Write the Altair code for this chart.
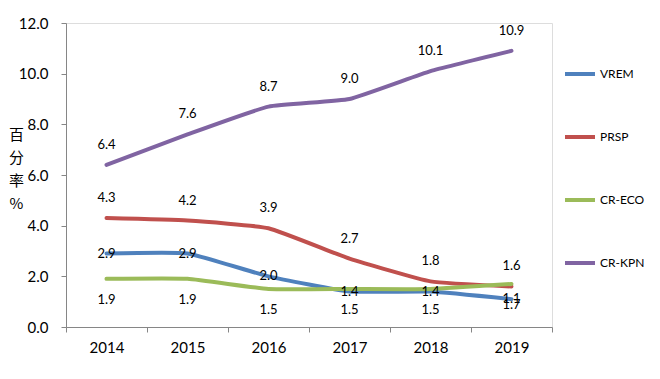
import altair as alt
import pandas as pd

years = ["2014", "2015", "2016", "2017", "2018", "2019"]
series = ["VREM", "PRSP", "CR-ECO", "CR-KPN"]
vrem = [2.9, 2.9, 2.0, 1.4, 1.4, 1.1]
prsp = [4.3, 4.2, 3.9, 2.7, 1.8, 1.6]
cr_eco = [1.9, 1.9, 1.5, 1.5, 1.5, 1.7]
cr_kpn = [6.4, 7.6, 8.7, 9.0, 10.1, 10.9]
colors = ["#4F81BD", "#C0504D", "#9BBB59", "#8064A2"]
y_ticks = [0, 2, 4, 6, 8, 10, 12]

rows = []
for name, vals in zip(series, [vrem, prsp, cr_eco, cr_kpn]):
    for yr, v in zip(years, vals):
        rows.append({"year": yr, "series": name, "value": v})
df = pd.DataFrame(rows)

FONT = "Lato"

x = alt.X("year:N", sort=years, title=None,
          scale=alt.Scale(paddingInner=0, paddingOuter=0),
          axis=alt.Axis(labelAngle=0, labelFontSize=15, labelFont=FONT, labelColor="#000000",
                        tickBand="extent", tickSize=5, labelPadding=8,
                        domainColor="#868686", tickColor="#868686"))
y = alt.Y("value:Q", title=["百", "分", "率", "%"],
          scale=alt.Scale(domain=[0, 12], nice=False),
          axis=alt.Axis(values=y_ticks, format=".1f", labelFontSize=15, labelFont=FONT,
                        labelColor="#000000", grid=False, tickSize=5, labelPadding=13,
                        domainColor="#868686", tickColor="#868686",
                        titleAngle=0, titleX=-50, titleY=104, titleAlign="center",
                        titleBaseline="top", titleFontSize=15, titleFontWeight="normal",
                        titleLineHeight=23, titleFont="Noto Sans CJK SC", titleColor="#000000"))
color = alt.Color("series:N", sort=series,
                  scale=alt.Scale(domain=series, range=colors),
                  legend=alt.Legend(title=None, orient="none", legendX=497, legendY=34,
                                    symbolType="stroke", symbolSize=900, symbolStrokeWidth=4,
                                    rowPadding=38, labelFontSize=12, labelFont=FONT,
                                    labelColor="#000000", labelOffset=3))

base = alt.Chart(df)
lines = base.mark_line(strokeWidth=4, interpolate="cardinal", tension=0.6,
                       strokeCap="round", strokeJoin="round").encode(
    x=x, y=y, color=color, order=alt.Order("year:N"))

def labels(names, dy):
    return base.transform_filter(
        alt.FieldOneOfPredicate(field="series", oneOf=names)
    ).mark_text(dy=dy, fontSize=13, font=FONT, color="#000000", baseline="middle").encode(
        x=alt.X("year:N", sort=years), y="value:Q", text=alt.Text("value:Q", format=".1f"))

chart = alt.layer(
    lines,
    labels(["VREM"], 0),
    labels(["PRSP", "CR-KPN"], -20),
    labels(["CR-ECO"], 21),
).properties(
    width=486, height=304,
    autosize=alt.AutoSizeParams(type="none"),
    padding={"left": 58, "top": 15, "right": 100, "bottom": 44},
).configure_view(stroke=None).configure(background="white")

chart.save("out.html", embed_options={"renderer": "svg", "actions": False})
